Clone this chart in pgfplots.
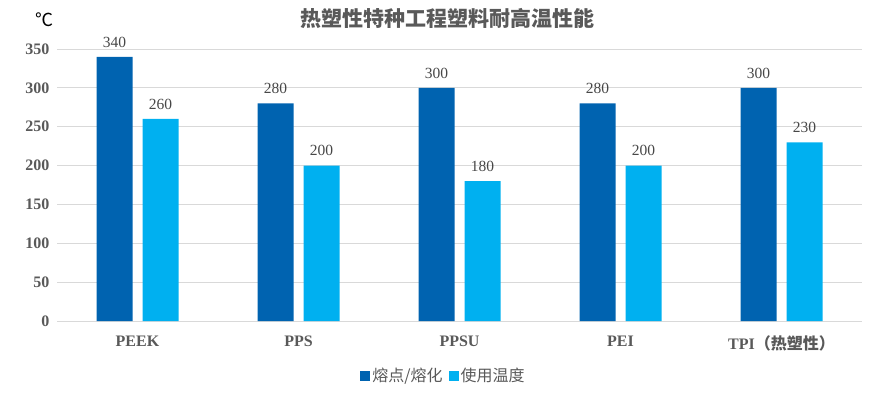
\documentclass[border=0pt]{standalone}
\usepackage{fontspec}
\usepackage{pgfplots}
\pgfplotsset{compat=1.18}
\setmainfont{Liberation Serif}
\newfontfamily\cjk{Noto Sans CJK SC}
\definecolor{dblue}{HTML}{0063B0}
\definecolor{lblue}{HTML}{00B0F0}
\definecolor{txtgray}{HTML}{595959}
\definecolor{gridgray}{HTML}{D9D9D9}
\begin{document}
\begin{tikzpicture}[x=1pt,y=1pt]
\path[use as bounding box] (0,0) rectangle (882,392);
\begin{axis}[
  at={(57pt,71pt)}, anchor=south west,
  scale only axis, width=805pt, height=272pt,
  ybar, bar width=36pt,
  xmin=-0.5, xmax=4.5, ymin=0, ymax=350,
  xtick=data,
  xticklabels={PEEK,PPS,PPSU,PEI,{TPI{\cjk（热塑性）}}},
  ytick={0,50,...,350},
  axis line style={draw=none},
  major tick length=0pt,
  ymajorgrids, grid style={gridgray, line width=0.8pt},
  /pgf/number format/assume math mode=true,
  yticklabel style={font=\bfseries\fontsize{16}{18}\selectfont, text=txtgray, xshift=-4pt},
  xticklabel style={font=\bfseries\fontsize{16}{18}\selectfont, text=txtgray, yshift=-11pt},
  nodes near coords,
  nodes near coords style={font=\fontsize{15.5}{17}\selectfont, text=txtgray!80!black, anchor=south, yshift=6pt},
  legend style={at={(axis description cs:0.48,-0.202)}, anchor=center, draw=none, fill=none,
    font=\cjk\fontsize{16}{18}\selectfont, text=txtgray, legend columns=2,
    /tikz/every even column/.append style={column sep=4pt}},
  legend image code/.code={\fill[#1] (0pt,-5pt) rectangle (10pt,5pt);},
]
\addplot[fill=dblue, draw=none, bar shift=-23pt] coordinates {(0,340) (1,280) (2,300) (3,280) (4,300)};
\addplot[fill=lblue, draw=none, bar shift=23pt] coordinates {(0,260) (1,200) (2,180) (3,200) (4,230)};
\legend{熔点/熔化,使用温度}
\end{axis}
\node[font=\cjk\bfseries\fontsize{21}{23}\selectfont, text=txtgray] at (447,374) {热塑性特种工程塑料耐高温性能};
\node[font=\cjk\fontsize{18}{20}\selectfont] at (44,372) {℃};
\end{tikzpicture}
\end{document}
